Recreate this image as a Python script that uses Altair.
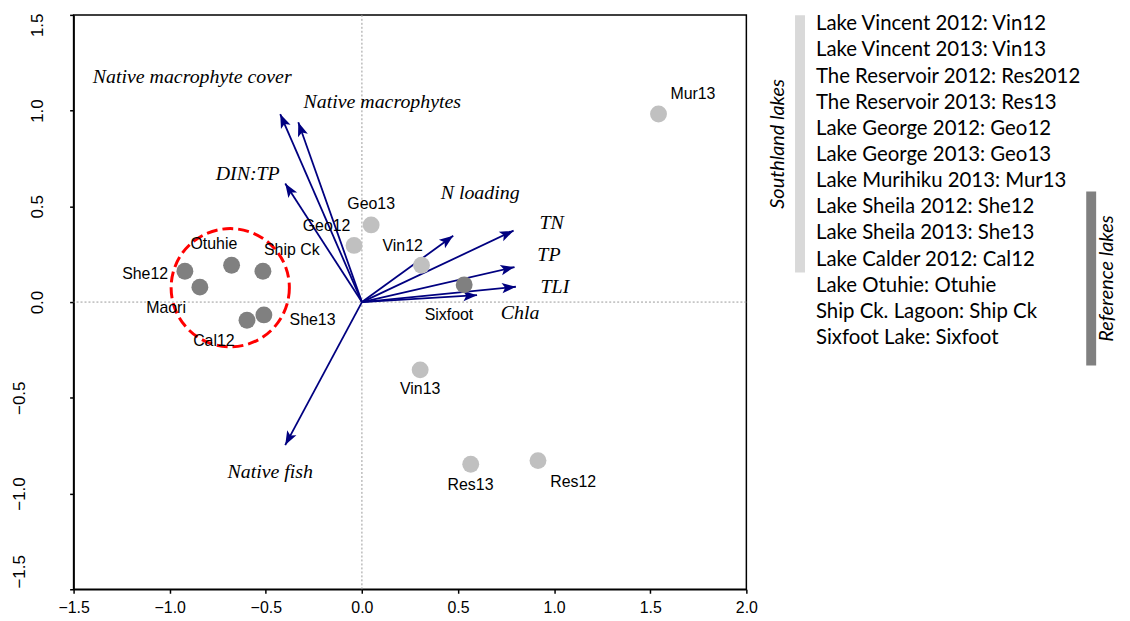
import altair as alt
import pandas as pd
import numpy as np

W, H = 677, 578
X_DOM = [-1.5, 2.0]
Y_DOM = [-1.5, 1.5]

# ---- site scores -------------------------------------------------------
sites = ["Vin12", "Vin13", "Res12", "Res13", "Geo12", "Geo13", "Mur13",
         "She12", "She13", "Cal12", "Otuhie", "Ship Ck", "Sixfoot", "Maori"]
site_group = ["Southland"] * 7 + ["Reference"] * 7
site_x = [0.310, 0.303, 0.916, 0.566, -0.041, 0.048, 1.543,
          -0.921, -0.510, -0.598, -0.678, -0.515, 0.532, -0.843]
site_y = [0.192, -0.354, -0.828, -0.847, 0.296, 0.403, 0.982,
          0.161, -0.067, -0.095, 0.192, 0.161, 0.090, 0.078]
label_x = [0.212, 0.303, 1.099, 0.565, -0.184, 0.048, 1.722,
           -1.128, -0.257, -0.770, -0.770, -0.365, 0.453, -1.019]
label_y = [0.294, -0.456, -0.940, -0.957, 0.398, 0.512, 1.086,
           0.144, -0.093, -0.205, 0.303, 0.273, -0.069, -0.029]

# ---- environmental vectors --------------------------------------------
var_names = ["Native macrophyte cover", "Native macrophytes", "DIN:TP",
             "N loading", "TN", "TP", "TLI", "Chla", "Native fish"]
var_x = [-0.425, -0.331, -0.399, 0.475, 0.789, 0.794, 0.801, 0.599, -0.399]
var_y = [0.982, 0.939, 0.619, 0.346, 0.373, 0.183, 0.080, 0.036, -0.747]
var_label_x = [-0.883, 0.106, -0.594, 0.615, 0.987, 0.973, 1.004, 0.823, -0.477]
var_label_y = [1.176, 1.046, 0.668, 0.567, 0.412, 0.247, 0.080, -0.059, -0.888]

# ---- reference-lake cluster outline -------------------------------------
cluster_x = [-0.685]
cluster_y = [0.075]

# ---- legend -------------------------------------------------------------
legend_labels = ["Lake Vincent 2012: Vin12", "Lake Vincent 2013: Vin13",
                 "The Reservoir 2012: Res2012", "The Reservoir 2013: Res13",
                 "Lake George 2012: Geo12", "Lake George 2013: Geo13",
                 "Lake Murihiku 2013: Mur13", "Lake Sheila 2012: She12",
                 "Lake Sheila 2013: She13", "Lake Calder 2012: Cal12",
                 "Lake Otuhie: Otuhie", "Ship Ck. Lagoon: Ship Ck",
                 "Sixfoot Lake: Sixfoot"]
bracket_names = ["Southland lakes", "Reference lakes"]
bracket_rows = [(-0.35, 9.5), (6.4, 13.05)]
bracket_colors = ["#d9d9d9", "#808080"]

# layout of the legend (pixels, relative to the plot area)
ROW0, ROW_STEP = 9.5, 26.3
TEXT_X = W + 70
BAR_X = [W + 54, W + 347]
BRLAB_X = [W + 32, W + 363]

sites_df = pd.DataFrame({"site": sites, "group": site_group, "x": site_x,
                         "y": site_y, "lx": label_x, "ly": label_y})

sx, sy = W / (X_DOM[1] - X_DOM[0]), H / (Y_DOM[1] - Y_DOM[0])
vec_df = pd.DataFrame({"var": var_names, "x": var_x, "y": var_y,
                       "lx": var_label_x, "ly": var_label_y})
vec_df["x0"] = 0.0
vec_df["y0"] = 0.0
vec_df["ang"] = (np.degrees(np.arctan2(vec_df["x"] * sx, vec_df["y"] * sy)) + 360) % 360

leg_df = pd.DataFrame({"label": legend_labels})
leg_df["px"] = TEXT_X
leg_df["py"] = ROW0 + ROW_STEP * np.arange(len(legend_labels))

br_df = pd.DataFrame({"name": bracket_names, "col": bracket_colors,
                      "px": BAR_X, "lpx": BRLAB_X})
br_df["py"] = [ROW0 + ROW_STEP * r[0] for r in bracket_rows]
br_df["py2"] = [ROW0 + ROW_STEP * r[1] for r in bracket_rows]
br_df["lpy"] = (br_df["py"] + br_df["py2"]) / 2

xs = alt.Scale(domain=X_DOM, nice=False, zero=False)
ys = alt.Scale(domain=Y_DOM, nice=False, zero=False)

x_axis = alt.Axis(values=[-1.5, -1.0, -0.5, 0.0, 0.5, 1.0, 1.5, 2.0], format=".1f",
                  title=None, grid=False, labelFont="Liberation Sans", labelFontSize=16,
                  labelColor="black", labelPadding=6, labelFlush=False,
                  tickSize=4, tickColor="black", tickWidth=1.5,
                  domainColor="black", domainWidth=1.5)
y_axis = alt.Axis(values=[-1.5, -1.0, -0.5, 0.0, 0.5, 1.0, 1.5], format=".1f",
                  title=None, grid=False, labelFont="Liberation Sans", labelFontSize=17,
                  labelColor="black", labelAngle=270, labelAlign="center",
                  labelBaseline="alphabetic",
                  labelPadding={"condition": {"test": "datum.value < 0", "value": 45}, "value": 27},
                  labelOffset={"condition": [{"test": "datum.value > 1.4", "value": 10},
                                             {"test": "datum.value < -1.4", "value": -18}],
                               "value": 0},
                  labelFlush=False,
                  tickSize=4, tickColor="black", tickWidth=1.5,
                  domainColor="black", domainWidth=1.5)

zero_df = pd.DataFrame({"v": [0.0]})
zx = alt.Chart(zero_df).mark_rule(color="#9a9a9a", strokeWidth=1, strokeDash=[2, 2]).encode(
    x=alt.X("v:Q", scale=xs, axis=x_axis))
zy = alt.Chart(zero_df).mark_rule(color="#9a9a9a", strokeWidth=1, strokeDash=[2, 2]).encode(
    y=alt.Y("v:Q", scale=ys, axis=y_axis))

shafts = alt.Chart(vec_df).mark_rule(color="#000080", strokeWidth=1.8).encode(
    x=alt.X("x0:Q", scale=xs), y=alt.Y("y0:Q", scale=ys), x2="x:Q", y2="y:Q")

ARROW = "M0,0 L-0.75,2 L0,1.55 L0.75,2 Z"
heads = alt.Chart(vec_df).mark_point(shape=ARROW, filled=True, size=196,
                                      color="#000080", opacity=1).encode(
    x=alt.X("x:Q", scale=xs), y=alt.Y("y:Q", scale=ys),
    angle=alt.Angle("ang:Q", scale=None))

vec_labels = alt.Chart(vec_df).mark_text(font="Liberation Serif", fontStyle="italic",
                                         fontSize=20, color="black").encode(
    x=alt.X("lx:Q", scale=xs), y=alt.Y("ly:Q", scale=ys), text="var:N")

cluster = alt.Chart(pd.DataFrame({"x": cluster_x, "y": cluster_y})).mark_point(
    shape="circle", size=14161, filled=False, color="#ff0000", strokeWidth=3,
    strokeDash=[11, 5], opacity=1).encode(
    x=alt.X("x:Q", scale=xs), y=alt.Y("y:Q", scale=ys))

points = alt.Chart(sites_df).mark_circle(size=289, opacity=1).encode(
    x=alt.X("x:Q", scale=xs), y=alt.Y("y:Q", scale=ys),
    color=alt.Color("group:N", scale=alt.Scale(domain=["Southland", "Reference"],
                                               range=["#c0c0c0", "#808080"]), legend=None))

site_labels = alt.Chart(sites_df).mark_text(font="Liberation Sans", fontSize=16,
                                            color="black").encode(
    x=alt.X("lx:Q", scale=xs), y=alt.Y("ly:Q", scale=ys), text="site:N")

leg_text = alt.Chart(leg_df).mark_text(font="Lato", fontSize=20.5, align="left",
                                       baseline="middle", color="black").encode(
    x=alt.X("px:Q", scale=None), y=alt.Y("py:Q", scale=None), text="label:N")

leg_bars = alt.Chart(br_df).mark_rule(strokeWidth=10).encode(
    x=alt.X("px:Q", scale=None), y=alt.Y("py:Q", scale=None), y2="py2:Q",
    color=alt.Color("col:N", scale=None))

leg_names = alt.Chart(br_df).mark_text(font="Lato", fontSize=20, fontStyle="italic",
                                       angle=270, align="center", baseline="middle",
                                       color="black").encode(
    x=alt.X("lpx:Q", scale=None), y=alt.Y("lpy:Q", scale=None), text="name:N")

chart = alt.layer(zx, zy, shafts, heads, cluster, points, site_labels, vec_labels,
                  leg_text, leg_bars, leg_names).properties(
    width=W, height=H,
    autosize=alt.AutoSizeParams(type="none"),
    padding={"left": 66, "top": 5, "right": 378, "bottom": 30},
).configure(background="white").configure_view(stroke="black", strokeWidth=1.5)

chart.save("out.html", embed_options={"renderer": "svg", "actions": False})
